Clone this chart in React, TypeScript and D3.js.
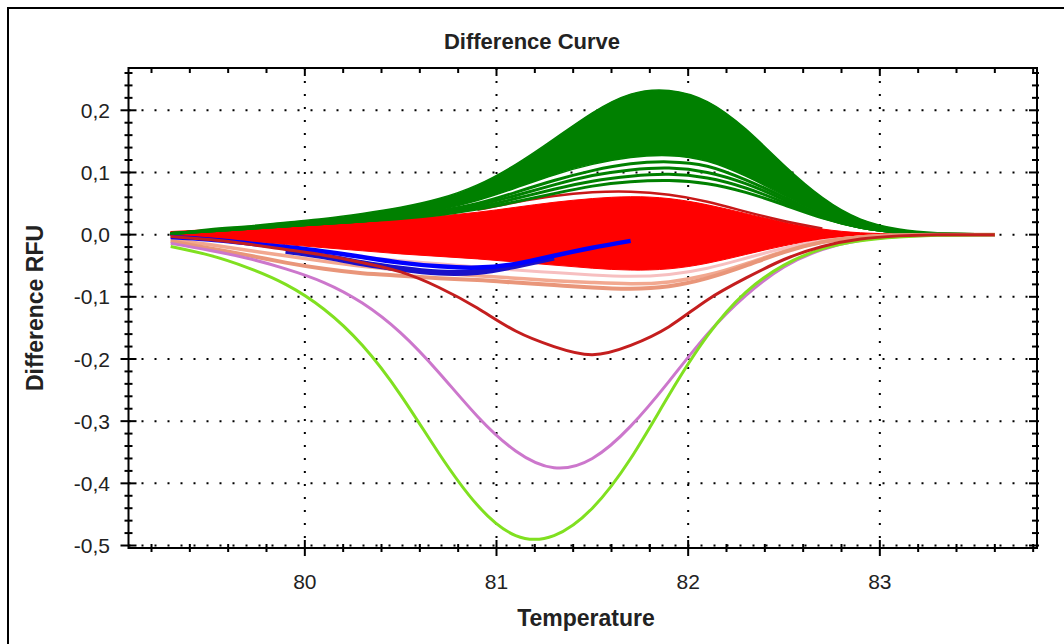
import React from 'react';
import * as d3 from 'd3';

// Temperatures (°C) at which curve values were read
const temps = [79.3, 79.5, 79.7, 79.9, 80.1, 80.3, 80.5, 80.7, 80.9, 81.1, 81.3, 81.5, 81.7, 81.9, 82.1, 82.3, 82.5, 82.7, 82.9, 83.1, 83.3, 83.6];

// Green cluster envelope
const greenTop = [0.001, 0.009, 0.014, 0.02, 0.026, 0.034, 0.044, 0.058, 0.08, 0.113, 0.154, 0.196, 0.226, 0.232, 0.214, 0.17, 0.112, 0.06, 0.025, 0.009, 0.003, 0];
const greenInner = [0.002, 0.006, 0.01, 0.014, 0.018, 0.023, 0.03, 0.04, 0.055, 0.075, 0.096, 0.113, 0.124, 0.127, 0.118, 0.094, 0.063, 0.032, 0.012, 0.004, 0.001, 0];
// Separate green curves under the solid green band
const green1 = [0.002, 0.006, 0.01, 0.014, 0.018, 0.022, 0.028, 0.038, 0.05, 0.068, 0.087, 0.103, 0.114, 0.117, 0.11, 0.088, 0.06, 0.03, 0.012, 0.004, 0.001, 0];
const green2 = [0.002, 0.006, 0.01, 0.014, 0.018, 0.022, 0.028, 0.036, 0.047, 0.063, 0.08, 0.095, 0.104, 0.107, 0.1, 0.082, 0.056, 0.029, 0.012, 0.004, 0.001, 0];
const green3 = [0.002, 0.006, 0.01, 0.014, 0.018, 0.022, 0.027, 0.034, 0.044, 0.058, 0.073, 0.086, 0.094, 0.097, 0.091, 0.075, 0.052, 0.028, 0.012, 0.004, 0.001, 0];
const green4 = [0.002, 0.006, 0.01, 0.014, 0.018, 0.022, 0.026, 0.032, 0.041, 0.053, 0.066, 0.078, 0.085, 0.087, 0.082, 0.068, 0.048, 0.027, 0.012, 0.004, 0.001, 0];

// Red cluster envelope
const redTop = [0.005, 0.008, 0.011, 0.014, 0.018, 0.021, 0.025, 0.03, 0.036, 0.044, 0.052, 0.058, 0.061, 0.058, 0.048, 0.034, 0.02, 0.009, 0.003, 0.001, 0, 0];
const redBottom = [-0.002, -0.006, -0.011, -0.016, -0.021, -0.026, -0.031, -0.035, -0.039, -0.044, -0.049, -0.054, -0.057, -0.055, -0.046, -0.032, -0.018, -0.008, -0.003, -0.001, 0, 0];
const darkRedTop = [null, null, null, null, null, null, null, null, 0.04, 0.052, 0.062, 0.068, 0.069, 0.064, 0.053, 0.037, 0.022, 0.01, null, null, null, null];

// Pink / salmon curves
const pink1 = [null, null, null, null, -0.03, -0.036, -0.042, -0.047, -0.052, -0.057, -0.061, -0.065, -0.067, -0.064, -0.054, -0.038, -0.022, -0.01, -0.004, -0.001, 0, 0];
const salmon1 = [-0.01, -0.022, -0.033, -0.045, -0.055, -0.062, -0.066, -0.07, -0.073, -0.077, -0.081, -0.085, -0.087, -0.083, -0.07, -0.05, -0.028, -0.012, -0.004, -0.001, 0, 0];
const salmon2 = [-0.008, -0.016, -0.025, -0.034, -0.043, -0.051, -0.057, -0.062, -0.066, -0.07, -0.074, -0.077, -0.079, -0.076, -0.065, -0.047, -0.027, -0.012, -0.004, -0.001, 0, 0];

// Blue curves (stop near 81.7)
const blue1 = [-0.004, -0.008, -0.014, -0.02, -0.027, -0.036, -0.045, -0.051, -0.053, -0.047, -0.034, -0.021, -0.01, null, null, null, null, null, null, null, null, null];
const blue2 = [null, null, null, -0.026, -0.035, -0.046, -0.055, -0.061, -0.06, -0.05, -0.037, null, null, null, null, null, null, null, null, null, null, null];

// Single curves
const darkRedDip = [-0.003, -0.008, -0.015, -0.024, -0.033, -0.045, -0.06, -0.085, -0.118, -0.155, -0.18, -0.193, -0.178, -0.148, -0.105, -0.07, -0.04, -0.019, -0.007, -0.002, 0, 0];
const violet = [-0.014, -0.025, -0.038, -0.055, -0.077, -0.11, -0.158, -0.222, -0.292, -0.348, -0.375, -0.36, -0.308, -0.236, -0.16, -0.098, -0.052, -0.024, -0.009, -0.003, -0.001, 0];
const lime = [-0.019, -0.033, -0.053, -0.08, -0.12, -0.178, -0.258, -0.352, -0.435, -0.484, -0.484, -0.44, -0.36, -0.258, -0.163, -0.093, -0.049, -0.023, -0.01, -0.004, -0.001, 0];

// Axes
const xTicks = [80, 81, 82, 83];
const xTickLabels = ['80', '81', '82', '83'];
const yTicks = [0.2, 0.1, 0, -0.1, -0.2, -0.3, -0.4, -0.5];
const yTickLabels = ['0,2', '0,1', '0,0', '-0,1', '-0,2', '-0,3', '-0,4', '-0,5'];

const W = 1064;
const H = 644;
const L = 128.5, R = 1037, T = 68, B = 548;

export default function App() {
  const x = d3.scaleLinear().domain([79.08, 83.82]).range([L, R]);
  const y = d3.scaleLinear().domain([-0.504, 0.268]).range([B, T]);

  type P = [number, number | null];
  const pts = (vals: (number | null)[]): P[] => temps.map((t, i) => [t, vals[i]]);
  const line = d3.line<P>()
    .defined(d => d[1] !== null)
    .x(d => x(d[0]))
    .y(d => y(d[1] as number))
    .curve(d3.curveNatural);
  const band = (top: number[], bot: number[]) =>
    d3.area<number>()
      .x((_, i) => x(temps[i]))
      .y0((_, i) => y(bot[i]))
      .y1((_, i) => y(top[i]))
      .curve(d3.curveNatural)(temps.map((_, i) => i)) as string;

  const xMinor = d3.range(79.2, 83.81, 0.2).map(v => +v.toFixed(2));
  const yMinor = d3.range(-0.5, 0.261, 0.02).map(v => +v.toFixed(3));

  const font = "'Liberation Sans', Arial, Helvetica, sans-serif";
  const curves: { d: (number | null)[]; c: string; w: number }[] = [
    { d: darkRedTop, c: '#C81818', w: 2.5 },
    { d: green1, c: '#008000', w: 3 },
    { d: green2, c: '#008000', w: 3 },
    { d: green3, c: '#008000', w: 3 },
    { d: green4, c: '#008000', w: 3 },
    { d: pink1, c: '#F7BFC0', w: 3 },
    { d: salmon2, c: '#F2A890', w: 3.5 },
    { d: salmon1, c: '#E9967A', w: 4 },
    { d: blue2, c: '#1A10C8', w: 6 },
    { d: blue1, c: '#0000FF', w: 4.5 },
    { d: violet, c: '#CC77CC', w: 3 },
    { d: lime, c: '#80E020', w: 3 },
    { d: darkRedDip, c: '#C41E1E', w: 3 },
  ];

  return (
    <svg width={W} height={H} style={{ position: 'absolute', left: 0, top: 0, background: '#fff' }}>
      <rect x={0} y={0} width={W} height={H} fill="#fff" />
      {/* outer frame (extends past the picture right/bottom) */}
      <rect x={8} y={8} width={1120} height={700} fill="none" stroke="#000" strokeWidth={2} />

      <defs>
        <clipPath id="plot">
          <rect x={L} y={T} width={R - L} height={B - T} />
        </clipPath>
      </defs>

      {/* grid */}
      {yTicks.map(v => (
        <line key={'gy' + v} x1={L} x2={R} y1={y(v)} y2={y(v)} stroke="#000" strokeWidth={2} strokeDasharray="2 11" />
      ))}
      {xTicks.map(v => (
        <line key={'gx' + v} x1={x(v)} x2={x(v)} y1={T} y2={B} stroke="#000" strokeWidth={2} strokeDasharray="2 11" />
      ))}

      <g clipPath="url(#plot)">
        <path d={band(redTop, redBottom)} fill="#FF0000" stroke="#FF0000" strokeWidth={1} />
        <path d={band(greenTop, greenInner)} fill="#008000" stroke="#008000" strokeWidth={1.5} />
        {curves.map((c, i) => (
          <path key={i} d={line(pts(c.d)) || ''} fill="none" stroke={c.c} strokeWidth={c.w} strokeLinejoin="round" />
        ))}
      </g>

      {/* axes */}
      <rect x={L} y={T} width={R - L} height={B - T} fill="none" stroke="#000" strokeWidth={2} />
      {xMinor.map(v => {
        const major = Math.abs(v - Math.round(v)) < 1e-6;
        return (
          <g key={'tx' + v}>
            <line x1={x(v)} x2={x(v)} y1={major ? B - 8 : B - 4} y2={major ? B + 8 : B + 4} stroke="#000" strokeWidth={2} />
            <line x1={x(v)} x2={x(v)} y1={T} y2={major ? T + 8 : T + 5} stroke="#000" strokeWidth={2} />
          </g>
        );
      })}
      {yMinor.map(v => {
        const major = Math.abs(v * 10 - Math.round(v * 10)) < 1e-6;
        return (
          <g key={'ty' + v}>
            <line x1={major ? L - 8 : L - 4} x2={major ? L + 8 : L + 4} y1={y(v)} y2={y(v)} stroke="#000" strokeWidth={2} />
            <line x1={major ? R - 8 : R - 5} x2={R + 2} y1={y(v)} y2={y(v)} stroke="#000" strokeWidth={2} />
          </g>
        );
      })}

      {/* tick labels */}
      {yTicks.map((v, i) => (
        <text key={'ly' + v} x={110} y={y(v)} dy="0.36em" textAnchor="end" fontFamily={font} fontSize={21} fill="#222">
          {yTickLabels[i]}
        </text>
      ))}
      {xTicks.map((v, i) => (
        <text key={'lx' + v} x={x(v)} y={581} dy="0.36em" textAnchor="middle" fontFamily={font} fontSize={21} fill="#222">
          {xTickLabels[i]}
        </text>
      ))}

      {/* titles */}
      <text x={532} y={41} dy="0.36em" textAnchor="middle" fontFamily={font} fontSize={22} fontWeight="bold" fill="#222">
        Difference Curve
      </text>
      <text x={586} y={618} dy="0.36em" textAnchor="middle" fontFamily={font} fontSize={23} fontWeight="bold" fill="#222">
        Temperature
      </text>
      <text transform={`translate(35, ${(T + B) / 2}) rotate(-90)`} dy="0.36em" textAnchor="middle" fontFamily={font} fontSize={23} fontWeight="bold" fill="#222">
        Difference RFU
      </text>
    </svg>
  );
}
